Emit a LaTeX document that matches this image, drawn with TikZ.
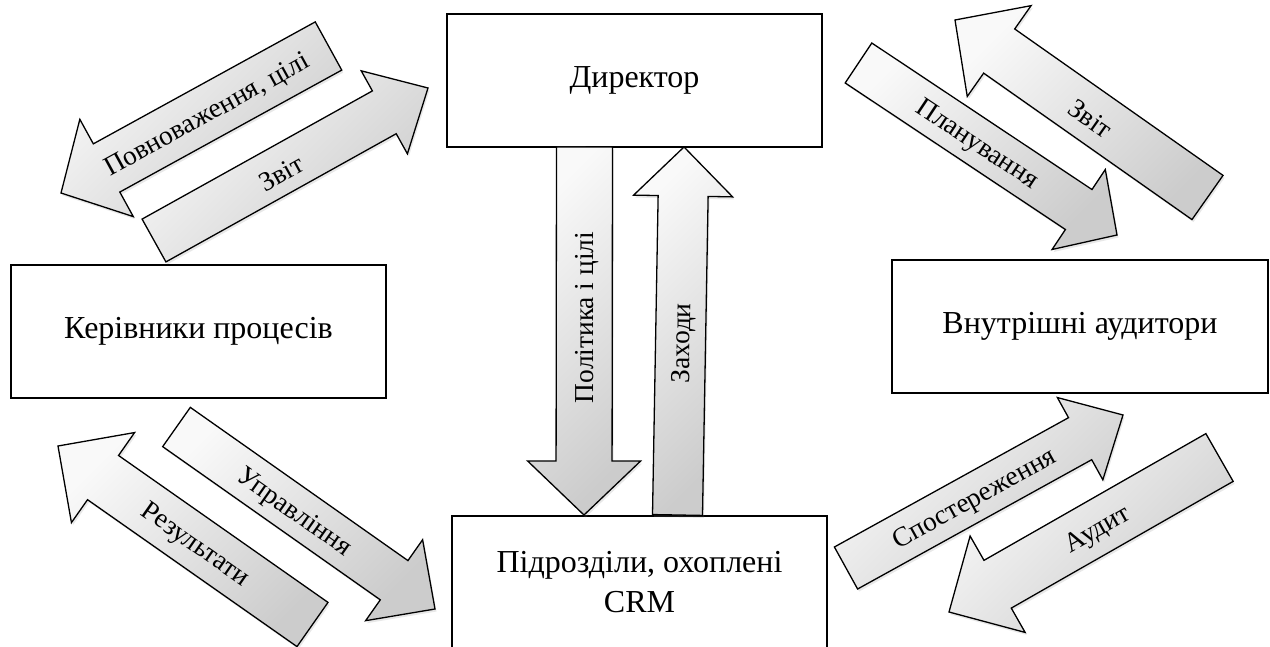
\documentclass[tikz,border=0pt]{standalone}
\usepackage{fontspec}
\setmainfont{Liberation Serif}[Ligatures=TeX]
\usetikzlibrary{shadows}

\tikzset{
  boxnode/.style={draw=black, line width=1.3pt, fill=white, minimum width=375pt, minimum height=133pt,
    inner sep=0pt, align=center, font=\fontsize{32}{40}\selectfont},
  arrowbody/.style={draw=black, line width=1.3pt, line join=miter,
    top color=gray!5, bottom color=gray!40, shading angle=45,
    drop shadow={opacity=0.18, shadow xshift=1.5pt, shadow yshift=-2.5pt}},
  lbl/.style={inner sep=0pt, font=\fontsize{27.4}{30}\selectfont}
}

% #1 #2 tail centre, #3 #4 tip, #5 shaft width, #6 head width, #7 head length, #8 label, #9 name
\newcommand\blockarr[9]{%
  \pgfmathsetmacro\bdx{#3-(#1)}%
  \pgfmathsetmacro\bdy{#4-(#2)}%
  \pgfmathsetmacro\blen{veclen(\bdx,\bdy)}%
  \pgfmathsetmacro\bux{\bdx/\blen}%
  \pgfmathsetmacro\buy{\bdy/\blen}%
  \pgfmathsetmacro\bnx{-\buy}%
  \pgfmathsetmacro\bny{\bux}%
  \pgfmathsetmacro\bs{#5/2}%
  \pgfmathsetmacro\bH{#6/2}%
  \pgfmathsetmacro\bL{\blen-#7}%
  \pgfmathsetmacro\bd{\blen/2-#7/4}%
  \pgfmathsetmacro\bang{atan2(-\bdy,\bdx)}%
  \pgfmathsetmacro\btang{ifthenelse(\bang>90.5,\bang-180,ifthenelse(\bang<-89.5,\bang+180,\bang))}%
  \draw[arrowbody]
    ({#1+\bs*(\bnx)},{#2+\bs*(\bny)})
    -- ({#1+\bL*(\bux)+\bs*(\bnx)},{#2+\bL*(\buy)+\bs*(\bny)})
    -- ({#1+\bL*(\bux)+\bH*(\bnx)},{#2+\bL*(\buy)+\bH*(\bny)})
    -- (#3,#4)
    -- ({#1+\bL*(\bux)-\bH*(\bnx)},{#2+\bL*(\buy)-\bH*(\bny)})
    -- ({#1+\bL*(\bux)-\bs*(\bnx)},{#2+\bL*(\buy)-\bs*(\bny)})
    -- ({#1-\bs*(\bnx)},{#2-\bs*(\bny)})
    -- cycle;
  \node[lbl, rotate=\btang, yshift=-3pt] (#9) at ({#1+\bd*(\bux)},{#2+\bd*(\buy)}) {#8};
}

\begin{document}
\begin{tikzpicture}[x=1pt,y=-1pt]
\useasboundingbox (0,0) rectangle (1270,647);
\fill[white] (0,0) rectangle (1270,647);

% boxes
\node[boxnode] (dir) at (634.5,80.5) {Директор};
\node[boxnode] (ker) at (198.5,331.5) {Керівники процесів};
\node[boxnode, minimum width=376pt] (vnu) at (1080,326.5) {Внутрішні аудитори};
\node[boxnode] (pid) at (639.5,582.5) {Підрозділи, охоплені\\CRM};

% vertical arrows
\blockarr{584.5}{147}{584}{515}{56}{113}{54}{Політика і цілі}{polit}
\blockarr{677.5}{515}{684}{147}{50}{99}{49}{Заходи}{zah}

% top left
\blockarr{328.5}{46}{61}{193}{55}{111}{52}{Повноваження, цілі}{povn}
\blockarr{154}{240.5}{428}{88}{49}{95}{50}{Звіт}{zvitl}

% top right
\blockarr{858.5}{63}{1117}{235}{48}{96}{46}{Планування}{plan}
\blockarr{1207.5}{197.5}{955}{20}{54}{111}{54}{Звіт}{zvitr}

% bottom left
\blockarr{312.5}{624.5}{58}{446}{54}{110}{55}{Результати}{rez}
\blockarr{176.5}{427}{435}{609}{48}{99}{50}{Управління}{upr}

% bottom right
\blockarr{846}{568}{1123}{415}{48}{94}{49}{Спостереження}{spos}
\blockarr{1219.5}{457.5}{949}{612}{55}{111}{56}{Аудит}{aud}
\end{tikzpicture}
\end{document}
